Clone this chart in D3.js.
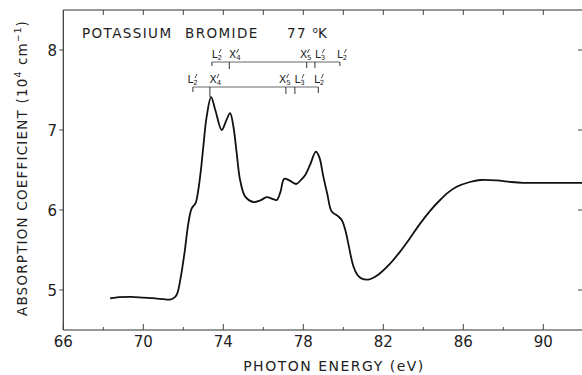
<!DOCTYPE html>
<html>
<head>
<meta charset="utf-8">
<script src="https://cdn.jsdelivr.net/npm/d3@7"></script>
<style>
  body { margin: 0; background: #fff; }
  svg { display: block; }
  text { font-family: "DejaVu Sans", sans-serif; fill: #222; }
</style>
</head>
<body>
<div id="chart"></div>
<script>
// photon energy (eV) and absorption coefficient (10^4 cm^-1)
var energy = [68.34, 68.8, 69.4, 70.0, 70.6, 71.0, 71.33, 71.55, 71.67, 71.75, 71.92, 72.08, 72.25, 72.42, 72.62,
  72.75, 72.88, 73.0, 73.17, 73.39, 73.6, 73.92, 74.15, 74.34, 74.5, 74.67, 74.84, 75.09, 75.5, 75.85,
  76.17, 76.45, 76.67, 76.85, 77.05, 77.3, 77.64, 77.9, 78.08, 78.33, 78.63, 78.8, 79.0, 79.2, 79.42,
  79.7, 79.92, 80.1, 80.25, 80.5, 80.7, 80.9, 81.25, 81.55, 81.84, 82.34, 82.84, 83.34, 83.84, 84.34,
  84.84, 85.25, 85.67, 86.33, 86.84, 87.67, 88.4, 89.0, 90.0, 91.0, 92.0];
var absorption = [4.896, 4.91, 4.915, 4.905, 4.895, 4.885, 4.88, 4.905, 4.94, 5.0, 5.23, 5.5, 5.83, 6.02, 6.09,
  6.25, 6.5, 6.79, 7.17, 7.41, 7.25, 7.0, 7.12, 7.21, 7.05, 6.71, 6.375, 6.17, 6.1, 6.12,
  6.16, 6.14, 6.125, 6.22, 6.39, 6.37, 6.325, 6.38, 6.43, 6.56, 6.73, 6.66, 6.42, 6.2, 5.98,
  5.93, 5.875, 5.75, 5.58, 5.3, 5.19, 5.145, 5.13, 5.16, 5.21, 5.33, 5.48, 5.65, 5.83, 5.99,
  6.125, 6.22, 6.29, 6.35, 6.375, 6.37, 6.35, 6.34, 6.34, 6.34, 6.34];

var xTicks = [66, 70, 74, 78, 82, 86, 90];
var xMinor = [68, 72, 76, 80, 84, 88];
var yTicks = [5, 6, 7, 8];

// critical point brackets: tick energies and labels
var upperTicks = [73.43, 74.3, 78.17, 78.58, 79.83];
var upperTickLen = [4, 7, 6, 6, 4];
var upperLabels = [["L", "2", 73.67], ["X", "4", 74.54], ["X", "5", 78.08], ["L", "3", 78.83], ["L", "2", 79.93]];
var lowerTicks = [72.48, 73.33, 77.13, 77.58, 78.75];
var lowerTickLen = [5, 10, 7, 7, 6];
var lowerLabels = [["L", "2", 72.46], ["X", "4", 73.56], ["X", "5", 77.04], ["L", "3", 77.81], ["L", "2", 78.78]];

var w = 582, h = 375;
var x = d3.scaleLinear().domain([66, 92]).range([63.3, 583.3]);
var y = d3.scaleLinear().domain([4.5, 8.5]).range([330, 10]);

var svg = d3.select("#chart").append("svg")
  .attr("width", w)
  .attr("height", h);

/* frame */
var frame = svg.append("g")
  .attr("stroke", "#333")
  .attr("stroke-width", 1.2)
  .attr("fill", "none");
frame.append("line").attr("x1", x(66)).attr("x2", x(92)).attr("y1", y(4.5)).attr("y2", y(4.5));
frame.append("line").attr("x1", x(66)).attr("x2", x(92)).attr("y1", y(8.5)).attr("y2", y(8.5));
frame.append("line").attr("x1", x(66)).attr("x2", x(66)).attr("y1", y(4.5)).attr("y2", y(8.5));

/* ticks, all drawn inward except on the left */
var tk = svg.append("g").attr("stroke", "#444").attr("stroke-width", 1);
tk.selectAll("line.xb").data(xTicks.concat(xMinor)).enter().append("line")
  .attr("x1", d => x(d)).attr("x2", d => x(d))
  .attr("y1", y(4.5)).attr("y2", d => y(4.5) - (xTicks.includes(d) ? 6 : 3));
tk.selectAll("line.xt").data(xTicks.concat(xMinor).filter(d => d > 66)).enter().append("line")
  .attr("x1", d => x(d)).attr("x2", d => x(d))
  .attr("y1", y(8.5)).attr("y2", y(8.5) + 5);
tk.selectAll("line.yl").data(yTicks).enter().append("line")
  .attr("x1", x(66) - 4).attr("x2", x(66))
  .attr("y1", d => y(d)).attr("y2", d => y(d));
tk.selectAll("line.yr").data(yTicks).enter().append("line")
  .attr("x1", 578).attr("x2", 583)
  .attr("y1", d => y(d)).attr("y2", d => y(d));

/* tick labels */
svg.selectAll("text.xl").data(xTicks).enter().append("text")
  .attr("x", d => x(d)).attr("y", 347)
  .attr("text-anchor", "middle")
  .style("font-size", "15px")
  .text(d => d);
svg.selectAll("text.yl").data(yTicks).enter().append("text")
  .attr("x", 57).attr("y", d => y(d) + 5.5)
  .attr("text-anchor", "end")
  .style("font-size", "15px")
  .text(d => d);

/* axis titles */
svg.append("text")
  .attr("x", 334).attr("y", 371)
  .attr("text-anchor", "middle")
  .style("font-size", "14px")
  .style("letter-spacing", "1.5px")
  .text("PHOTON ENERGY (eV)");

var yt = svg.append("text")
  .attr("transform", "translate(27,168) rotate(-90)")
  .attr("text-anchor", "middle")
  .style("font-size", "13.5px")
  .style("letter-spacing", "1.2px");
yt.append("tspan").text("ABSORPTION COEFFICIENT (10");
yt.append("tspan").attr("dy", -6).style("font-size", "9px").text("4");
yt.append("tspan").attr("dy", 6).text(" cm");
yt.append("tspan").attr("dy", -6).style("font-size", "9px").text("−1");
yt.append("tspan").attr("dy", 6).text(")");

/* title */
svg.append("text").attr("x", 82).attr("y", 38).style("font-size", "13.5px")
  .style("letter-spacing", "1.4px").text("POTASSIUM");
svg.append("text").attr("x", 185).attr("y", 38).style("font-size", "13.5px")
  .style("letter-spacing", "1.4px").text("BROMIDE");
var tt = svg.append("text").attr("x", 287).attr("y", 38).style("font-size", "13.5px");
tt.append("tspan").style("letter-spacing", "1.3px").text("77 ");
tt.append("tspan").attr("dy", -5).style("font-size", "9px").text("o");
tt.append("tspan").attr("dy", 5).text("K");

/* brackets */
function bracket(ticks, lens, labels, lineY, labelY) {
  var g = svg.append("g");
  g.append("line")
    .attr("x1", x(d3.min(ticks))).attr("x2", x(d3.max(ticks)))
    .attr("y1", lineY).attr("y2", lineY)
    .attr("stroke", "#555").attr("stroke-width", 0.9);
  g.selectAll("line.t").data(ticks).enter().append("line")
    .attr("x1", d => x(d)).attr("x2", d => x(d))
    .attr("y1", lineY).attr("y2", (d, i) => lineY + lens[i])
    .attr("stroke", "#333").attr("stroke-width", 1);
  var lab = g.selectAll("text").data(labels).enter().append("text")
    .attr("x", d => x(d[2]) - 5).attr("y", labelY)
    .style("font-size", "10.5px");
  lab.append("tspan").text(d => d[0]);
  lab.append("tspan").attr("dy", 2).style("font-size", "7px").text(d => d[1]);
  // prime: a small slanted stroke above the subscript
  g.selectAll("line.p").data(labels).enter().append("line")
    .attr("x1", d => x(d[2]) + 2.5).attr("y1", labelY - 5)
    .attr("x2", d => x(d[2]) + 4.5).attr("y2", labelY - 9)
    .attr("stroke", "#333").attr("stroke-width", 0.9);
}
bracket(upperTicks, upperTickLen, upperLabels, 62, 58);
bracket(lowerTicks, lowerTickLen, lowerLabels, 87, 83);

/* the curve */
var line = d3.line()
  .x((d, i) => x(energy[i]))
  .y(d => y(d))
  .curve(d3.curveCatmullRom.alpha(0.5));

svg.append("path")
  .datum(absorption)
  .attr("fill", "none")
  .attr("stroke", "#111")
  .attr("stroke-width", 1.8)
  .attr("d", line);
</script>
</body>
</html>
